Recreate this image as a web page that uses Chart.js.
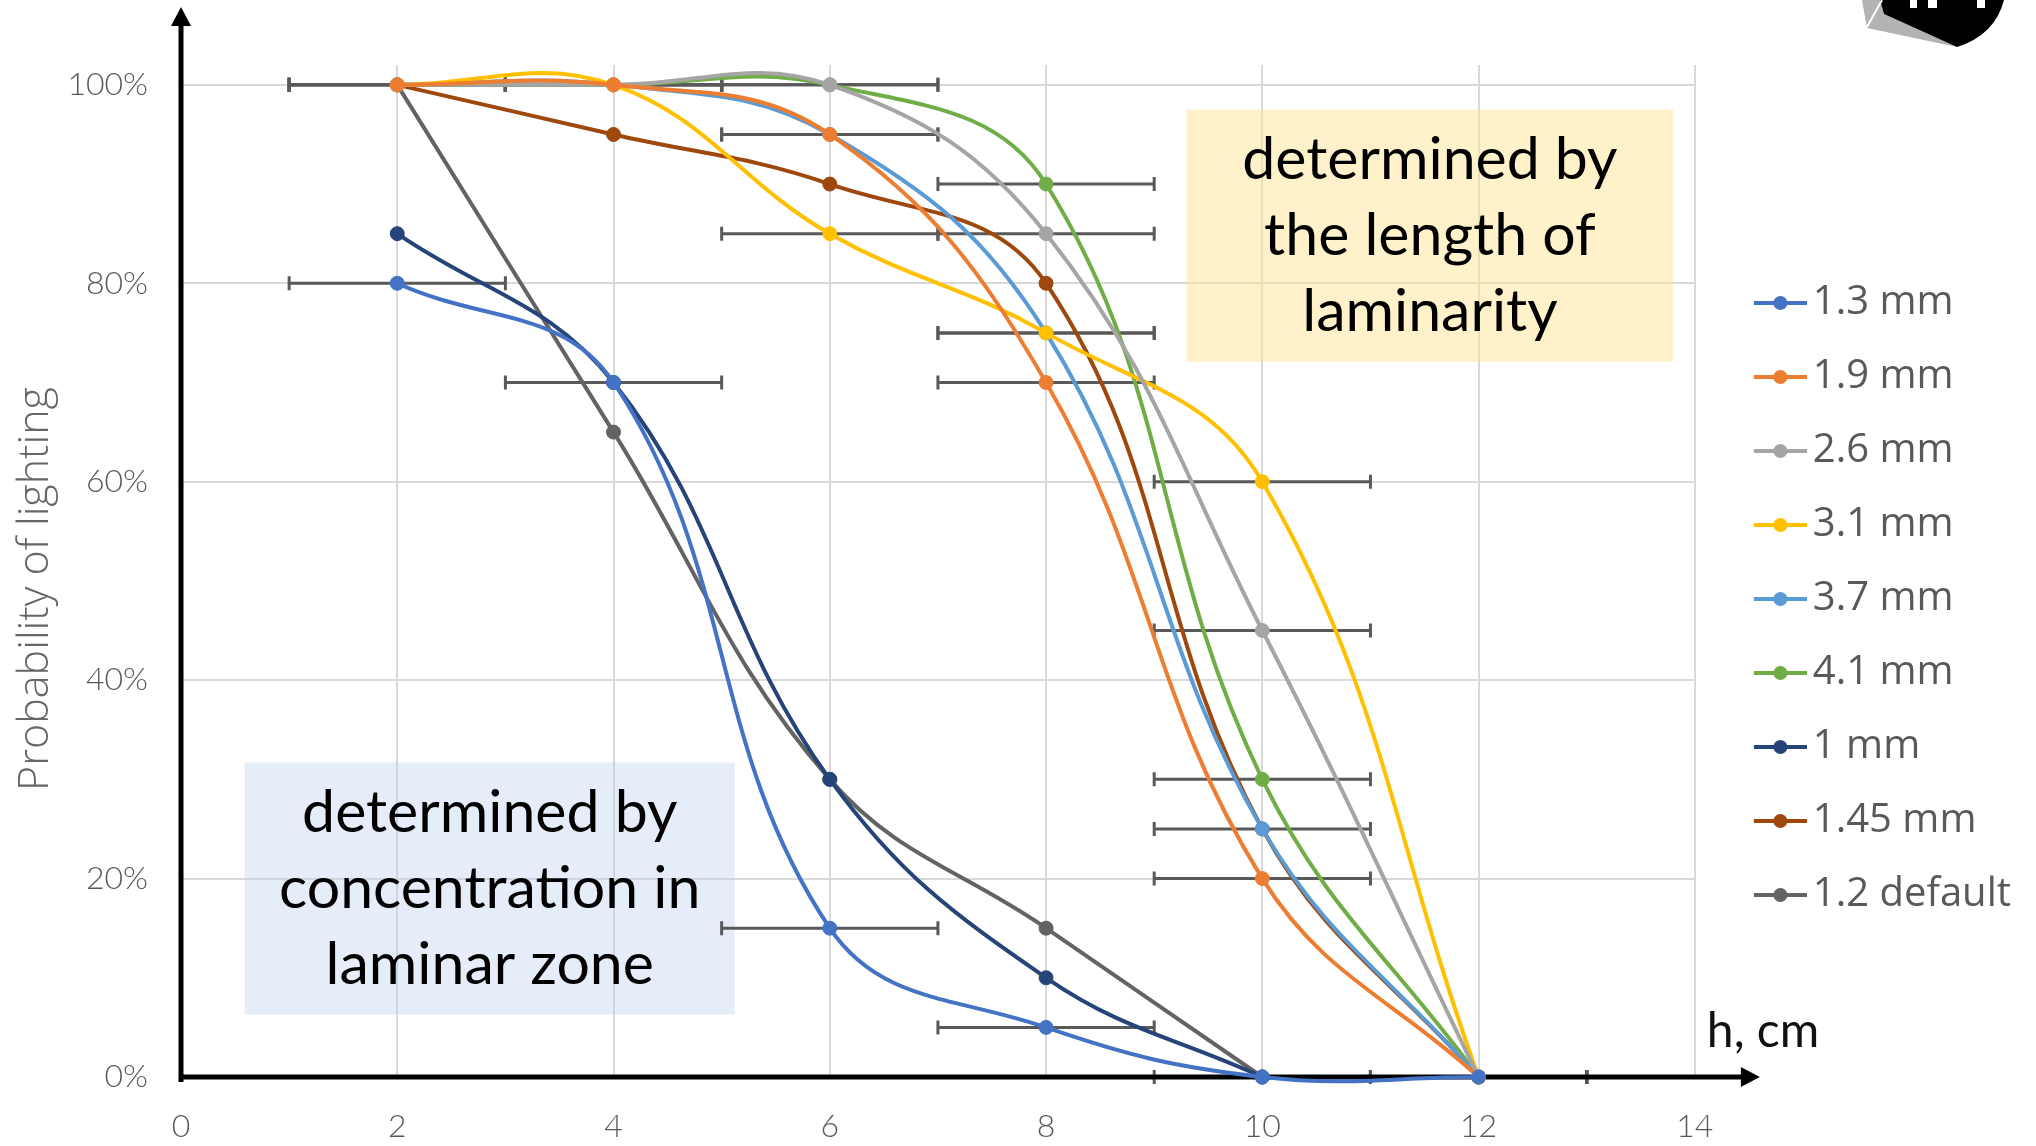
<!DOCTYPE html>
<html>
<head>
<meta charset="utf-8">
<script src="https://cdn.jsdelivr.net/npm/chart.js@4.4.1/dist/chart.umd.min.js"></script>
<style>
  html, body { margin: 0; padding: 0; background: #fff; overflow: hidden; }
  #wrap { position: relative; width: 2036px; height: 1146px; }
</style>
</head>
<body>
<div id="wrap"><canvas id="chart"></canvas></div>
<script>
// height above the burner, cm
const heights = [2, 4, 6, 8, 10, 12];

// probability of lighting for each wire diameter
const d13  = [0.80, 0.70, 0.15, 0.05, 0.00, 0.00];
const d19  = [1.00, 1.00, 0.95, 0.70, 0.20, 0.00];
const d26  = [1.00, 1.00, 1.00, 0.85, 0.45, 0.00];
const d31  = [1.00, 1.00, 0.85, 0.75, 0.60, 0.00];
const d37  = [1.00, 1.00, 0.95, 0.75, 0.25, 0.00];
const d41  = [1.00, 1.00, 1.00, 0.90, 0.30, 0.00];
const d10  = [0.85, 0.70, 0.30, 0.10, 0.00];
const d145 = [1.00, 0.95, 0.90, 0.80, 0.25, 0.00];
const d12  = [1.00, 0.65, 0.30, 0.15, 0.00];

const seriesNames  = ['1.3 mm', '1.9 mm', '2.6 mm', '3.1 mm', '3.7 mm', '4.1 mm', '1 mm', '1.45 mm', '1.2 default'];
const seriesValues = [d13, d19, d26, d31, d37, d41, d10, d145, d12];
const seriesColors = ['#4472C4', '#ED7D31', '#A5A5A5', '#FFC000', '#5B9BD5', '#70AD47', '#264478', '#9E480E', '#636363'];
// +/- error on height, cm (0 = no bars)
const heightError  = [1, 1, 1, 1, 1, 1, 0, 0, 0];

// shaded notes, in axis units
const notes = [
  { lines: ['determined by', 'the length of', 'laminarity'], x0: 9.30, x1: 13.80, y0: 0.721, y1: 0.975, fill: 'rgba(255, 230, 150, 0.5)' },
  { lines: ['determined by', 'concentration in', 'laminar zone'], x0: 0.59, x1: 5.12, y0: 0.063, y1: 0.317, fill: 'rgba(189, 211, 238, 0.4)' }
];

const GRID = '#D9D9D9';
const TEXT = '#595959';

function legendIcon(color) {
  const c = document.createElement('canvas');
  c.width = 92; c.height = 18;
  const g = c.getContext('2d');
  g.strokeStyle = color; g.lineWidth = 4;
  g.beginPath(); g.moveTo(39, 9); g.lineTo(92, 9); g.stroke();
  g.fillStyle = color;
  g.beginPath(); g.arc(65.5, 9, 7, 0, Math.PI * 2); g.fill();
  return c;
}

const datasets = seriesValues.map((vals, i) => ({
  label: seriesNames[i],
  data: vals.map((v, j) => ({ x: heights[j], y: v })),
  borderColor: seriesColors[i],
  backgroundColor: seriesColors[i],
  pointBorderColor: seriesColors[i],
  borderWidth: 4,
  pointRadius: 7,
  pointBorderWidth: 1,
  tension: 0.4,
  fill: false,
  clip: false
}));

function arrow(ctx, x, y, dir) {
  ctx.beginPath();
  if (dir === 'up') { ctx.moveTo(x, y); ctx.lineTo(x - 10, y + 19); ctx.lineTo(x + 10, y + 19); }
  else { ctx.moveTo(x, y); ctx.lineTo(x - 19, y - 10); ctx.lineTo(x - 19, y + 10); }
  ctx.closePath();
  ctx.fill();
}

const decor = {
  id: 'decor',
  beforeDatasetsDraw(chart) {
    const { ctx, chartArea: a, scales: { x, y } } = chart;
    ctx.save();

    notes.forEach(n => {
      const l = x.getPixelForValue(n.x0), r = x.getPixelForValue(n.x1);
      const t = y.getPixelForValue(n.y1), b = y.getPixelForValue(n.y0);
      ctx.fillStyle = n.fill;
      ctx.fillRect(l, t, r - l, b - t);
      ctx.fillStyle = '#000';
      ctx.font = '400 59px Lato';
      ctx.textAlign = 'center';
      ctx.textBaseline = 'middle';
      const cy = (t + b) / 2;
      n.lines.forEach((s, k) => ctx.fillText(s, (l + r) / 2, cy + (k - 1) * 76));
    });

    // horizontal error bars
    ctx.strokeStyle = '#595959';
    ctx.lineWidth = 3;
    seriesValues.forEach((vals, i) => {
      const e = heightError[i];
      if (!e) return;
      vals.forEach((v, j) => {
        const py = y.getPixelForValue(v);
        const pa = x.getPixelForValue(heights[j] - e), pb = x.getPixelForValue(heights[j] + e);
        ctx.beginPath();
        ctx.moveTo(pa, py); ctx.lineTo(pb, py);
        ctx.moveTo(pa, py - 7); ctx.lineTo(pa, py + 7);
        ctx.moveTo(pb, py - 7); ctx.lineTo(pb, py + 7);
        ctx.stroke();
      });
    });

    // axes with arrow heads
    const x0 = x.getPixelForValue(0), y0 = y.getPixelForValue(0);
    ctx.strokeStyle = '#000';
    ctx.fillStyle = '#000';
    ctx.lineWidth = 5;
    ctx.beginPath();
    ctx.moveTo(x0, y0 + 5); ctx.lineTo(x0, a.top - 40);
    ctx.moveTo(x0 - 2.5, y0); ctx.lineTo(a.right + 50, y0);
    ctx.stroke();
    arrow(ctx, x0, a.top - 58, 'up');
    arrow(ctx, a.right + 65, y0, 'right');
    ctx.restore();
  },
  afterDraw(chart) {
    const { ctx, chartArea: a } = chart;
    ctx.save();

    // y axis title
    ctx.translate(36, (a.top + a.bottom) / 2 + 18);
    ctx.rotate(-Math.PI / 2);
    ctx.fillStyle = '#666';
    ctx.font = '300 43px "Open Sans"';
    ctx.textAlign = 'center';
    ctx.textBaseline = 'middle';
    ctx.fillText('Probability of lighting', 0, 0);
    ctx.setTransform(1, 0, 0, 1, 0, 0);

    ctx.fillStyle = '#111';
    ctx.font = '400 48px Lato';
    ctx.textAlign = 'left';
    ctx.textBaseline = 'middle';
    ctx.fillText('h, cm', a.right + 12, a.bottom - 45);

    // corner logo
    ctx.fillStyle = '#B3B3B3';
    ctx.beginPath();
    ctx.moveTo(1862, 0); ctx.lineTo(1867, 28); ctx.lineTo(1957, 47); ctx.lineTo(1884, 14); ctx.lineTo(1880, 0);
    ctx.closePath(); ctx.fill();
    ctx.fillStyle = '#000';
    ctx.beginPath();
    ctx.moveTo(1880, 0); ctx.lineTo(1884, 14); ctx.lineTo(1957, 47);
    ctx.quadraticCurveTo(1995, 35, 2004, 0);
    ctx.closePath(); ctx.fill();
    ctx.strokeStyle = '#fff'; ctx.lineWidth = 2;
    ctx.beginPath(); ctx.moveTo(1867, 27); ctx.lineTo(1882, 0); ctx.stroke();
    ctx.fillStyle = '#fff';
    ctx.fillRect(1910, 0, 7, 8);
    ctx.fillRect(1928, 0, 9, 8);
    ctx.fillRect(1977, 0, 8, 8);
    ctx.restore();
  }
};

new Chart(document.getElementById('chart'), {
  type: 'line',
  data: { datasets },
  plugins: [decor],
  options: {
    responsive: true,
    maintainAspectRatio: false,
    animation: false,
    events: [],
    layout: { padding: { top: 65, right: 15, bottom: 0, left: 0 } },
    elements: { line: { capBezierPoints: false } },
    scales: {
      x: {
        type: 'linear', min: 0, max: 14,
        border: { display: false },
        grid: { color: GRID, lineWidth: 2, drawTicks: false },
        ticks: { stepSize: 2, padding: 30, color: TEXT, font: { family: 'Lato', size: 32, weight: '300' } },
        afterFit(s) { s.height = 69; }
      },
      y: {
        min: 0, max: 1.02,
        border: { display: false },
        grid: { color: GRID, lineWidth: 2, drawTicks: false },
        ticks: {
          stepSize: 0.2, includeBounds: false, padding: 33, color: TEXT,
          font: { family: 'Lato', size: 32, weight: '300' },
          callback: v => Math.round(v * 100) + '%'
        },
        afterFit(s) { s.width = 181; }
      }
    },
    plugins: {
      tooltip: { enabled: false },
      legend: {
        position: 'right',
        align: 'start',
        title: { display: true, text: '', font: { size: 10, lineHeight: 1.2 }, padding: { top: 172, bottom: 0 } },
        labels: {
          usePointStyle: true,
          pointStyleWidth: 64,
          padding: 34,
          color: TEXT,
          font: { family: 'Open Sans', size: 40 },
          generateLabels(chart) {
            const items = Chart.defaults.plugins.legend.labels.generateLabels(chart);
            items.forEach(it => { it.pointStyle = legendIcon(seriesColors[it.datasetIndex]); });
            return items;
          }
        }
      }
    }
  }
});
</script>
</body>
</html>
